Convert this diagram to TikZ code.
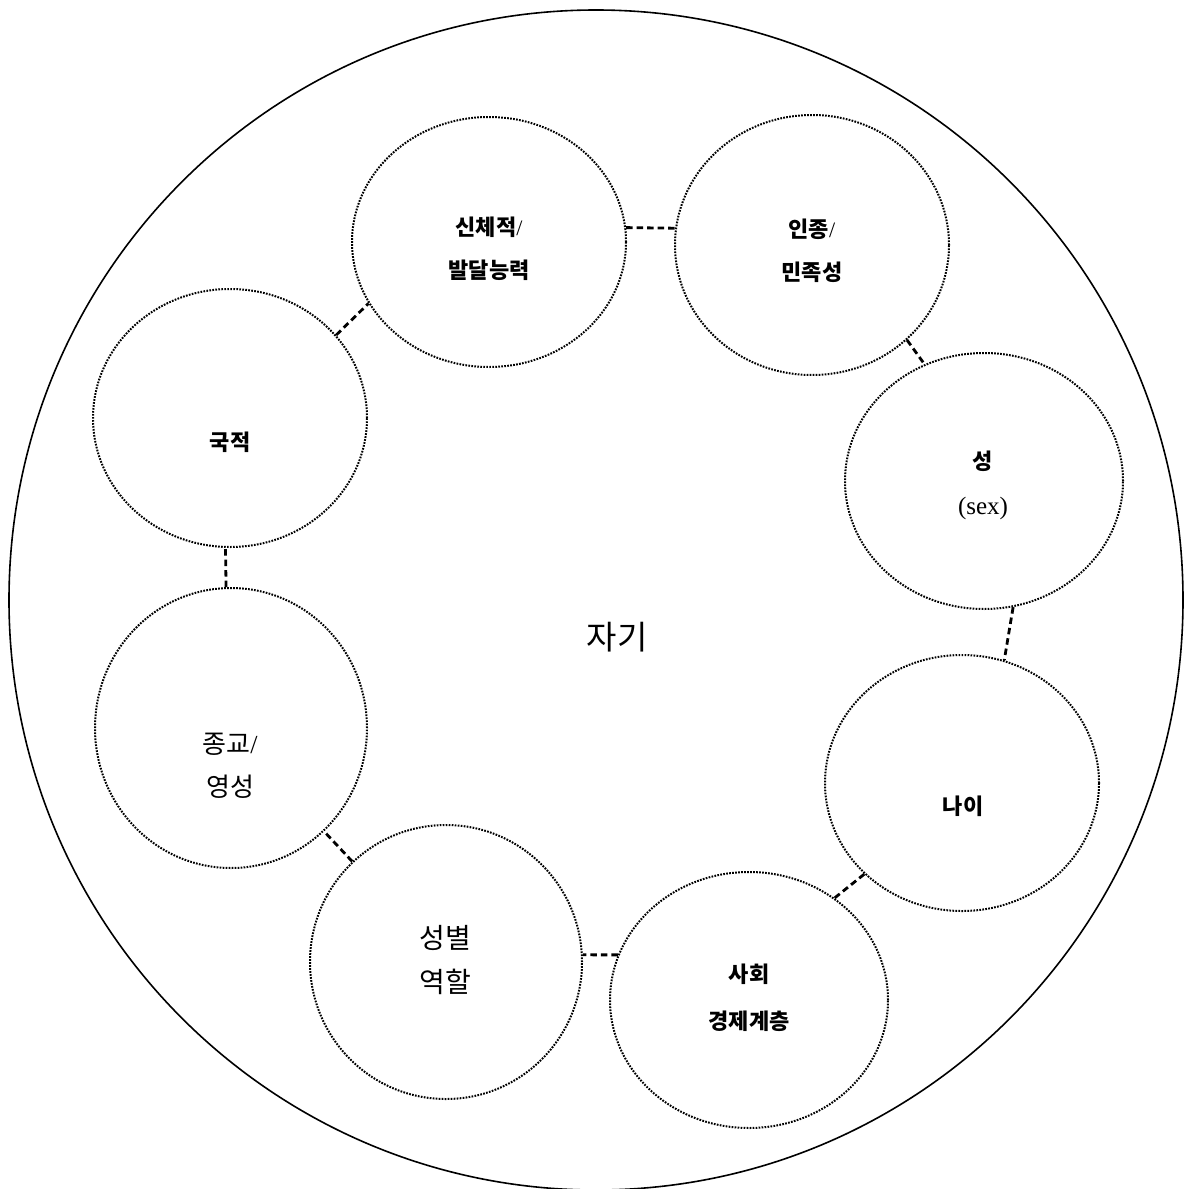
\documentclass[tikz,border=0pt]{standalone}
\usepackage{fontspec}
\setmainfont{Liberation Serif}
\newfontfamily\kr{Noto Sans CJK KR}
\usetikzlibrary{shapes.geometric}
\begin{document}
\begin{tikzpicture}[x=1pt,y=-1pt,
  circ/.style={shape=ellipse, draw, line width=2pt, dash pattern=on 1.7pt off 1.3pt, inner sep=0pt},
  conn/.style={line width=2.8pt, dash pattern=on 6.5pt off 4pt},
  lab/.style={align=center, inner sep=0pt, font=\fontsize{22}{43}\selectfont\kr\bfseries},
  labbig/.style={align=center, inner sep=0pt, font=\fontsize{27}{44}\selectfont\kr},
]
\useasboundingbox (0,0) rectangle (1188,1189);
\node[shape=ellipse, draw, line width=1.6pt, minimum width=1174pt, minimum height=1180pt, inner sep=0pt] (outer) at (596,600) {};

\node[circ, minimum width=274pt, minimum height=250pt] (phys) at (489,242) {};
\node[circ, minimum width=274pt, minimum height=260pt] (race) at (812,245) {};
\node[circ, minimum width=278pt, minimum height=256pt] (sex) at (984,481) {};
\node[circ, minimum width=274pt, minimum height=256pt] (age) at (962,783) {};
\node[circ, minimum width=278pt, minimum height=256pt] (ses) at (749,1000) {};
\node[circ, minimum width=272pt, minimum height=274pt] (gender) at (446,962) {};
\node[circ, minimum width=272pt, minimum height=280pt] (rel) at (231,728) {};
\node[circ, minimum width=274pt, minimum height=258pt] (nat) at (230,418) {};

\node[lab] (tphys) at (489,249) {신체적{\normalfont /}\\발달능력};
\node[lab] (trace) at (812,251) {인종{\normalfont /}\\민족성};
\node[lab, font=\fontsize{22}{45}\selectfont\kr\bfseries] (tsex) at (983,485) {성\\{\normalfont\fontsize{25}{30}\selectfont (sex)}};
\node[lab] (tage) at (963,806) {나이};
\node[lab, font=\fontsize{22}{47}\selectfont\kr\bfseries] (tses) at (749,998) {사회\\경제계층};
\node[labbig, font=\fontsize{28}{44}\selectfont\kr] (tgender) at (445,960) {성별\\역할};
\node[labbig, font=\fontsize{26}{43}\selectfont\kr] (trel) at (230,766) {종교{\normalfont /}\\영성};
\node[lab] (tnat) at (230,442) {국적};
\node[font=\fontsize{33}{40}\selectfont\kr, inner sep=0pt] (self) at (617,637) {자기};

\draw[conn] (phys.6.6) -- (race.173.7);
\draw[conn] (race.-45) -- (sex.117);
\draw[conn] (sex.-77.8) -- (age.71.2);
\draw[conn] (age.223) -- (ses.50.7);
\draw[conn] (ses.161.3) -- (gender.3.8);
\draw[conn] (gender.133.3) -- (rel.-48.4);
\draw[conn] (rel.92.9) -- (nat.268.2);
\draw[conn] (nat.38.7) -- (phys.207.9);
\end{tikzpicture}
\end{document}
